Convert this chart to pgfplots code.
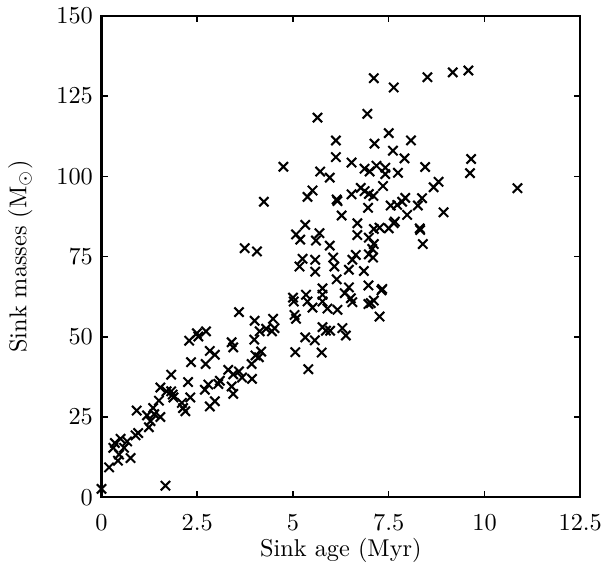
\documentclass[border=0pt]{standalone}
\usepackage{pgfplots}
\pgfplotsset{compat=1.18}
\begin{document}
\begin{tikzpicture}
\begin{axis}[
  scale only axis,
  width=197pt, height=198pt,
  xmin=0, xmax=12.5, ymin=0, ymax=150,
  xtick={0,2.5,5,7.5,10,12.5},
  ytick={0,25,50,75,100,125,150},
  xticklabels={0,2.5,5,7.5,10,12.5},
  tick align=inside,
  major tick length=2.5pt,
  axis line style={line width=0.9pt},
  every tick/.style={black, line width=0.6pt},
  xticklabel style={yshift=-3.5pt},
  xlabel={Sink age (Myr)},
  ylabel={Sink masses (M$_\odot$)},
  xlabel style={yshift=4pt, text depth=6pt},
  ylabel style={yshift=3pt},
]
\addplot[only marks, mark=x, mark size=2.7pt, line width=0.85pt, black] table {
0.00 2.6
1.67 3.6
0.20 9.3
0.43 11.4
0.76 12.2
0.46 13.3
0.31 15.4
0.59 15.4
0.35 16.9
0.67 17.4
0.50 18.2
0.89 19.3
0.96 20.0
1.24 21.8
1.28 23.7
1.54 25.0
1.19 25.5
1.38 25.9
0.92 27.0
1.35 27.8
2.19 26.8
2.13 27.8
2.10 29.4
2.83 28.3
2.96 29.9
1.50 30.1
1.88 31.1
2.32 31.1
3.44 32.2
1.82 33.0
1.70 33.0
1.86 32.0
2.70 33.5
1.54 34.2
2.79 35.1
3.05 35.3
3.09 36.3
3.40 34.5
2.26 35.9
3.67 37.3
3.93 36.9
1.82 38.2
3.31 39.7
3.59 39.2
3.44 38.3
2.34 42.1
2.72 41.5
3.92 41.5
5.40 39.9
2.83 45.6
3.44 46.7
2.96 44.4
4.17 45.4
4.02 44.2
4.11 43.6
5.06 45.2
5.75 45.1
2.29 48.8
3.40 48.3
3.99 49.1
5.32 49.8
5.57 48.9
2.49 51.1
2.73 51.7
2.53 50.1
4.13 51.7
4.30 52.5
4.45 51.7
4.52 52.7
5.77 53.0
5.86 51.9
5.97 51.9
6.29 52.7
6.38 50.4
3.59 57.7
4.00 55.0
4.48 55.6
5.04 56.8
5.08 55.6
7.26 56.3
5.51 59.1
5.90 58.8
6.16 58.4
5.00 62.2
5.02 61.0
5.38 61.0
5.77 61.0
6.51 62.0
6.55 60.8
7.11 61.3
6.97 60.2
7.03 60.5
5.34 63.1
5.77 63.1
6.35 63.6
7.33 64.9
7.31 64.5
5.77 65.1
6.46 65.4
6.97 66.0
6.14 67.9
5.58 70.3
6.46 70.9
6.85 70.5
5.17 71.9
6.08 71.9
5.25 74.3
5.58 74.0
6.05 74.7
6.55 74.0
6.64 75.5
6.98 75.7
7.09 74.7
3.74 77.6
4.06 76.6
7.07 77.4
5.96 78.4
7.11 78.9
8.39 78.9
5.60 80.0
5.19 80.3
6.98 80.9
5.08 81.9
5.69 82.3
6.68 81.7
7.11 83.6
7.26 84.0
7.50 83.8
8.31 83.8
8.32 83.3
5.32 84.9
6.68 85.4
7.63 85.4
7.66 85.9
6.27 87.8
7.98 88.0
8.93 88.8
6.96 90.2
7.55 90.9
7.72 91.1
7.85 92.1
8.26 90.9
4.24 92.1
6.14 92.8
6.16 92.3
5.38 93.6
6.53 94.4
6.98 94.5
7.10 93.9
7.93 93.3
8.37 93.2
5.51 95.6
6.77 96.4
6.87 95.4
7.35 97.0
8.67 96.6
8.80 98.3
10.86 96.3
5.96 99.6
5.71 101.5
7.00 101.5
7.41 100.7
7.74 101.1
9.62 101.0
4.75 103.0
6.87 102.4
7.18 103.3
7.41 102.7
8.45 102.9
6.53 104.3
9.65 105.4
6.12 106.0
7.91 105.6
7.61 108.0
6.12 111.2
7.13 110.2
8.08 111.2
7.50 113.5
5.64 118.3
6.94 119.5
7.11 130.6
7.63 127.7
8.51 130.9
9.17 132.4
9.58 133.0
};
\end{axis}
\end{tikzpicture}
\end{document}
